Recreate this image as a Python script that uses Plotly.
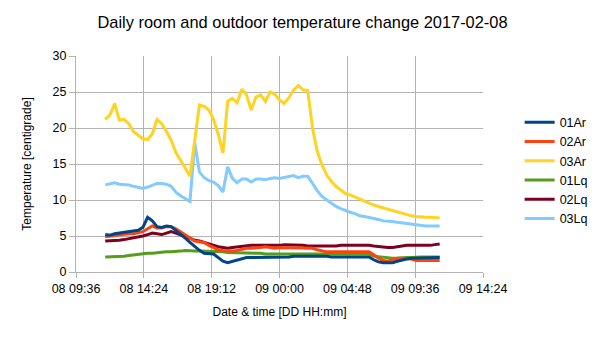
import pandas as pd
import plotly.graph_objects as go

# sample times: every 20 minutes from 2017-02-08 11:40
times = pd.date_range("2017-02-08 11:40", periods=72, freq="20min")

s01Ar = [5.2, 5.1, 5.3, 5.4, 5.5, 5.6, 5.7, 5.8, 6.2, 7.6, 7.1, 6.3, 6.2, 6.4, 6.3, 5.8, 5.2, 4.7, 4.1, 3.5,
         3.0, 2.6, 2.5, 2.5, 2.0, 1.5, 1.3, 1.5, 1.7, 1.9, 2.0, 2.0, 2.0, 2.1, 2.1, 2.1, 2.1, 2.1, 2.1, 2.1,
         2.2, 2.2, 2.2, 2.3, 2.3, 2.3, 2.2, 2.2, 2.1, 2.1, 2.1, 2.1, 2.1, 2.0, 2.0, 2.1, 2.1, 1.7, 1.4, 1.3,
         1.3, 1.3, 1.5, 1.7, 1.8, 1.9, 1.9, 1.9, 1.9, 2.0, 2.0, 2.0]
s02Ar = [4.9, 5.0, 5.1, 5.1, 5.2, 5.3, 5.3, 5.4, 5.6, 6.0, 6.4, 6.1, 6.1, 6.3, 6.3, 6.0, 5.6, 5.1, 4.7, 4.3,
         4.2, 4.1, 3.7, 3.4, 3.1, 3.0, 2.9, 2.9, 3.0, 3.2, 3.3, 3.3, 3.3, 3.4, 3.5, 3.4, 3.3, 3.4, 3.4, 3.4,
         3.3, 3.3, 3.3, 3.3, 3.3, 3.1, 2.9, 2.8, 2.8, 2.8, 2.8, 2.8, 2.8, 2.9, 2.9, 2.9, 2.8, 2.4, 1.9, 1.6,
         1.5, 1.7, 1.9, 1.9, 1.9, 1.8, 1.6, 1.6, 1.6, 1.6, 1.6, 1.6]
s03Ar = [21.2, 21.8, 23.4, 21.1, 21.2, 20.6, 19.5, 19.0, 18.5, 18.4, 19.2, 21.2, 20.6, 19.5, 18.3, 16.6, 15.4, 14.4, 13.3, 18.5,
         23.2, 23.0, 22.5, 21.2, 19.1, 16.5, 23.7, 24.1, 23.5, 25.4, 24.6, 22.5, 24.3, 24.6, 23.7, 25.0, 24.7, 23.9, 23.4, 24.2,
         25.3, 25.9, 25.3, 25.2, 20.0, 16.8, 14.9, 13.5, 12.6, 11.9, 11.4, 10.9, 10.7, 10.4, 10.1, 9.9, 9.6, 9.3, 9.1, 8.9,
         8.7, 8.5, 8.4, 8.2, 8.0, 7.8, 7.7, 7.6, 7.6, 7.6, 7.5, 7.5]
s01Lq = [2.1, 2.1, 2.1, 2.2, 2.2, 2.3, 2.4, 2.5, 2.5, 2.6, 2.6, 2.7, 2.8, 2.8, 2.8, 2.8, 2.9, 3.0, 2.9, 2.9,
         2.9, 2.9, 2.9, 2.9, 2.8, 2.8, 2.7, 2.7, 2.6, 2.6, 2.6, 2.6, 2.6, 2.6, 2.5, 2.5, 2.5, 2.5, 2.5, 2.6,
         2.6, 2.6, 2.6, 2.6, 2.6, 2.6, 2.5, 2.5, 2.6, 2.6, 2.6, 2.6, 2.6, 2.6, 2.6, 2.6, 2.5, 2.2, 2.1, 2.1,
         2.0, 1.9, 1.9, 2.0, 2.0, 2.0, 2.1, 2.1, 2.1, 2.1, 2.1, 2.1]
s02Lq = [4.3, 4.3, 4.4, 4.4, 4.5, 4.6, 4.7, 4.8, 5.0, 5.2, 5.4, 5.3, 5.2, 5.4, 5.6, 5.4, 5.1, 4.9, 4.7, 4.4,
         4.3, 4.1, 3.9, 3.6, 3.5, 3.4, 3.3, 3.4, 3.5, 3.6, 3.6, 3.7, 3.7, 3.7, 3.7, 3.6, 3.6, 3.7, 3.8, 3.8,
         3.8, 3.8, 3.7, 3.6, 3.6, 3.6, 3.5, 3.5, 3.6, 3.6, 3.7, 3.7, 3.8, 3.8, 3.7, 3.7, 3.7, 3.6, 3.5, 3.4,
         3.4, 3.4, 3.5, 3.7, 3.7, 3.7, 3.7, 3.7, 3.6, 3.7, 3.8, 3.9]
s03Lq = [12.1, 12.3, 12.4, 12.2, 12.2, 12.1, 11.9, 11.8, 11.6, 11.8, 12.1, 12.3, 12.3, 12.2, 11.9, 11.1, 10.6, 10.2, 9.8, 18.0,
         13.9, 13.1, 12.7, 12.5, 12.0, 11.1, 14.6, 13.0, 12.4, 12.9, 12.9, 12.5, 12.9, 12.9, 12.8, 13.0, 13.1, 13.0, 13.1, 13.3,
         13.4, 13.1, 13.3, 13.3, 12.2, 11.3, 10.5, 10.0, 9.5, 9.1, 8.8, 8.5, 8.3, 8.1, 7.8, 7.7, 7.6, 7.5, 7.3, 7.1,
         7.1, 7.0, 6.9, 6.8, 6.7, 6.6, 6.6, 6.5, 6.4, 6.4, 6.4, 6.4]

series_names = ["01Ar", "02Ar", "03Ar", "01Lq", "02Lq", "03Lq"]
series_values = [s01Ar, s02Ar, s03Ar, s01Lq, s02Lq, s03Lq]
series_colors = ["#004586", "#ff420e", "#ffd320", "#579d1c", "#7e0021", "#83caff"]

fig = go.Figure()
# add in reverse order so 01Ar is drawn on top
for name, vals, col in reversed(list(zip(series_names, series_values, series_colors))):
    fig.add_trace(go.Scatter(x=times, y=vals, name=name, mode="lines",
                             line=dict(color=col, width=3)))

grid = "#b3b3b3"
font_family = "Liberation Sans, Arial, sans-serif"
fig.update_layout(
    width=605, height=340,
    margin=dict(l=76, r=115.5, t=56, b=68.3),
    paper_bgcolor="white", plot_bgcolor="white",
    font=dict(family=font_family, size=12, color="#000000"),
    title=dict(text="Daily room and outdoor temperature change 2017-02-08",
               x=0.5, xanchor="center", xref="container", y=1 - 22 / 340, yanchor="middle", yref="container",
               font=dict(size=16.4, color="#000000")),
    showlegend=True,
    legend=dict(traceorder="reversed", x=1.090, xanchor="left", y=0.469, yanchor="middle",
                font=dict(size=12.5), bgcolor="rgba(0,0,0,0)", itemwidth=30),
    xaxis=dict(
        range=["2017-02-08 09:36", "2017-02-09 14:24"],
        tick0="2017-02-08 09:36", dtick=4.8 * 3600 * 1000, tickformat="%d %H:%M",
        showgrid=True, gridcolor=grid, gridwidth=1,
        showline=True, linecolor=grid, linewidth=1,
        ticks="outside", ticklen=5, tickcolor=grid,
        tickfont=dict(size=12.5, color="#000000"),
        title=dict(text="Date & time [DD HH:mm]", font=dict(size=12), standoff=12),
        zeroline=False, automargin=False,
    ),
    yaxis=dict(
        range=[0, 30], dtick=5,
        showgrid=True, gridcolor=grid, gridwidth=1,
        showline=True, linecolor=grid, linewidth=1,
        ticks="outside", ticklen=6, tickcolor=grid,
        tickfont=dict(size=12.5, color="#000000"),
        title=dict(text="Temperature [centigrade]", font=dict(size=12), standoff=18),
        zeroline=False, automargin=False,
    ),
)

fig.write_html("out.html")
